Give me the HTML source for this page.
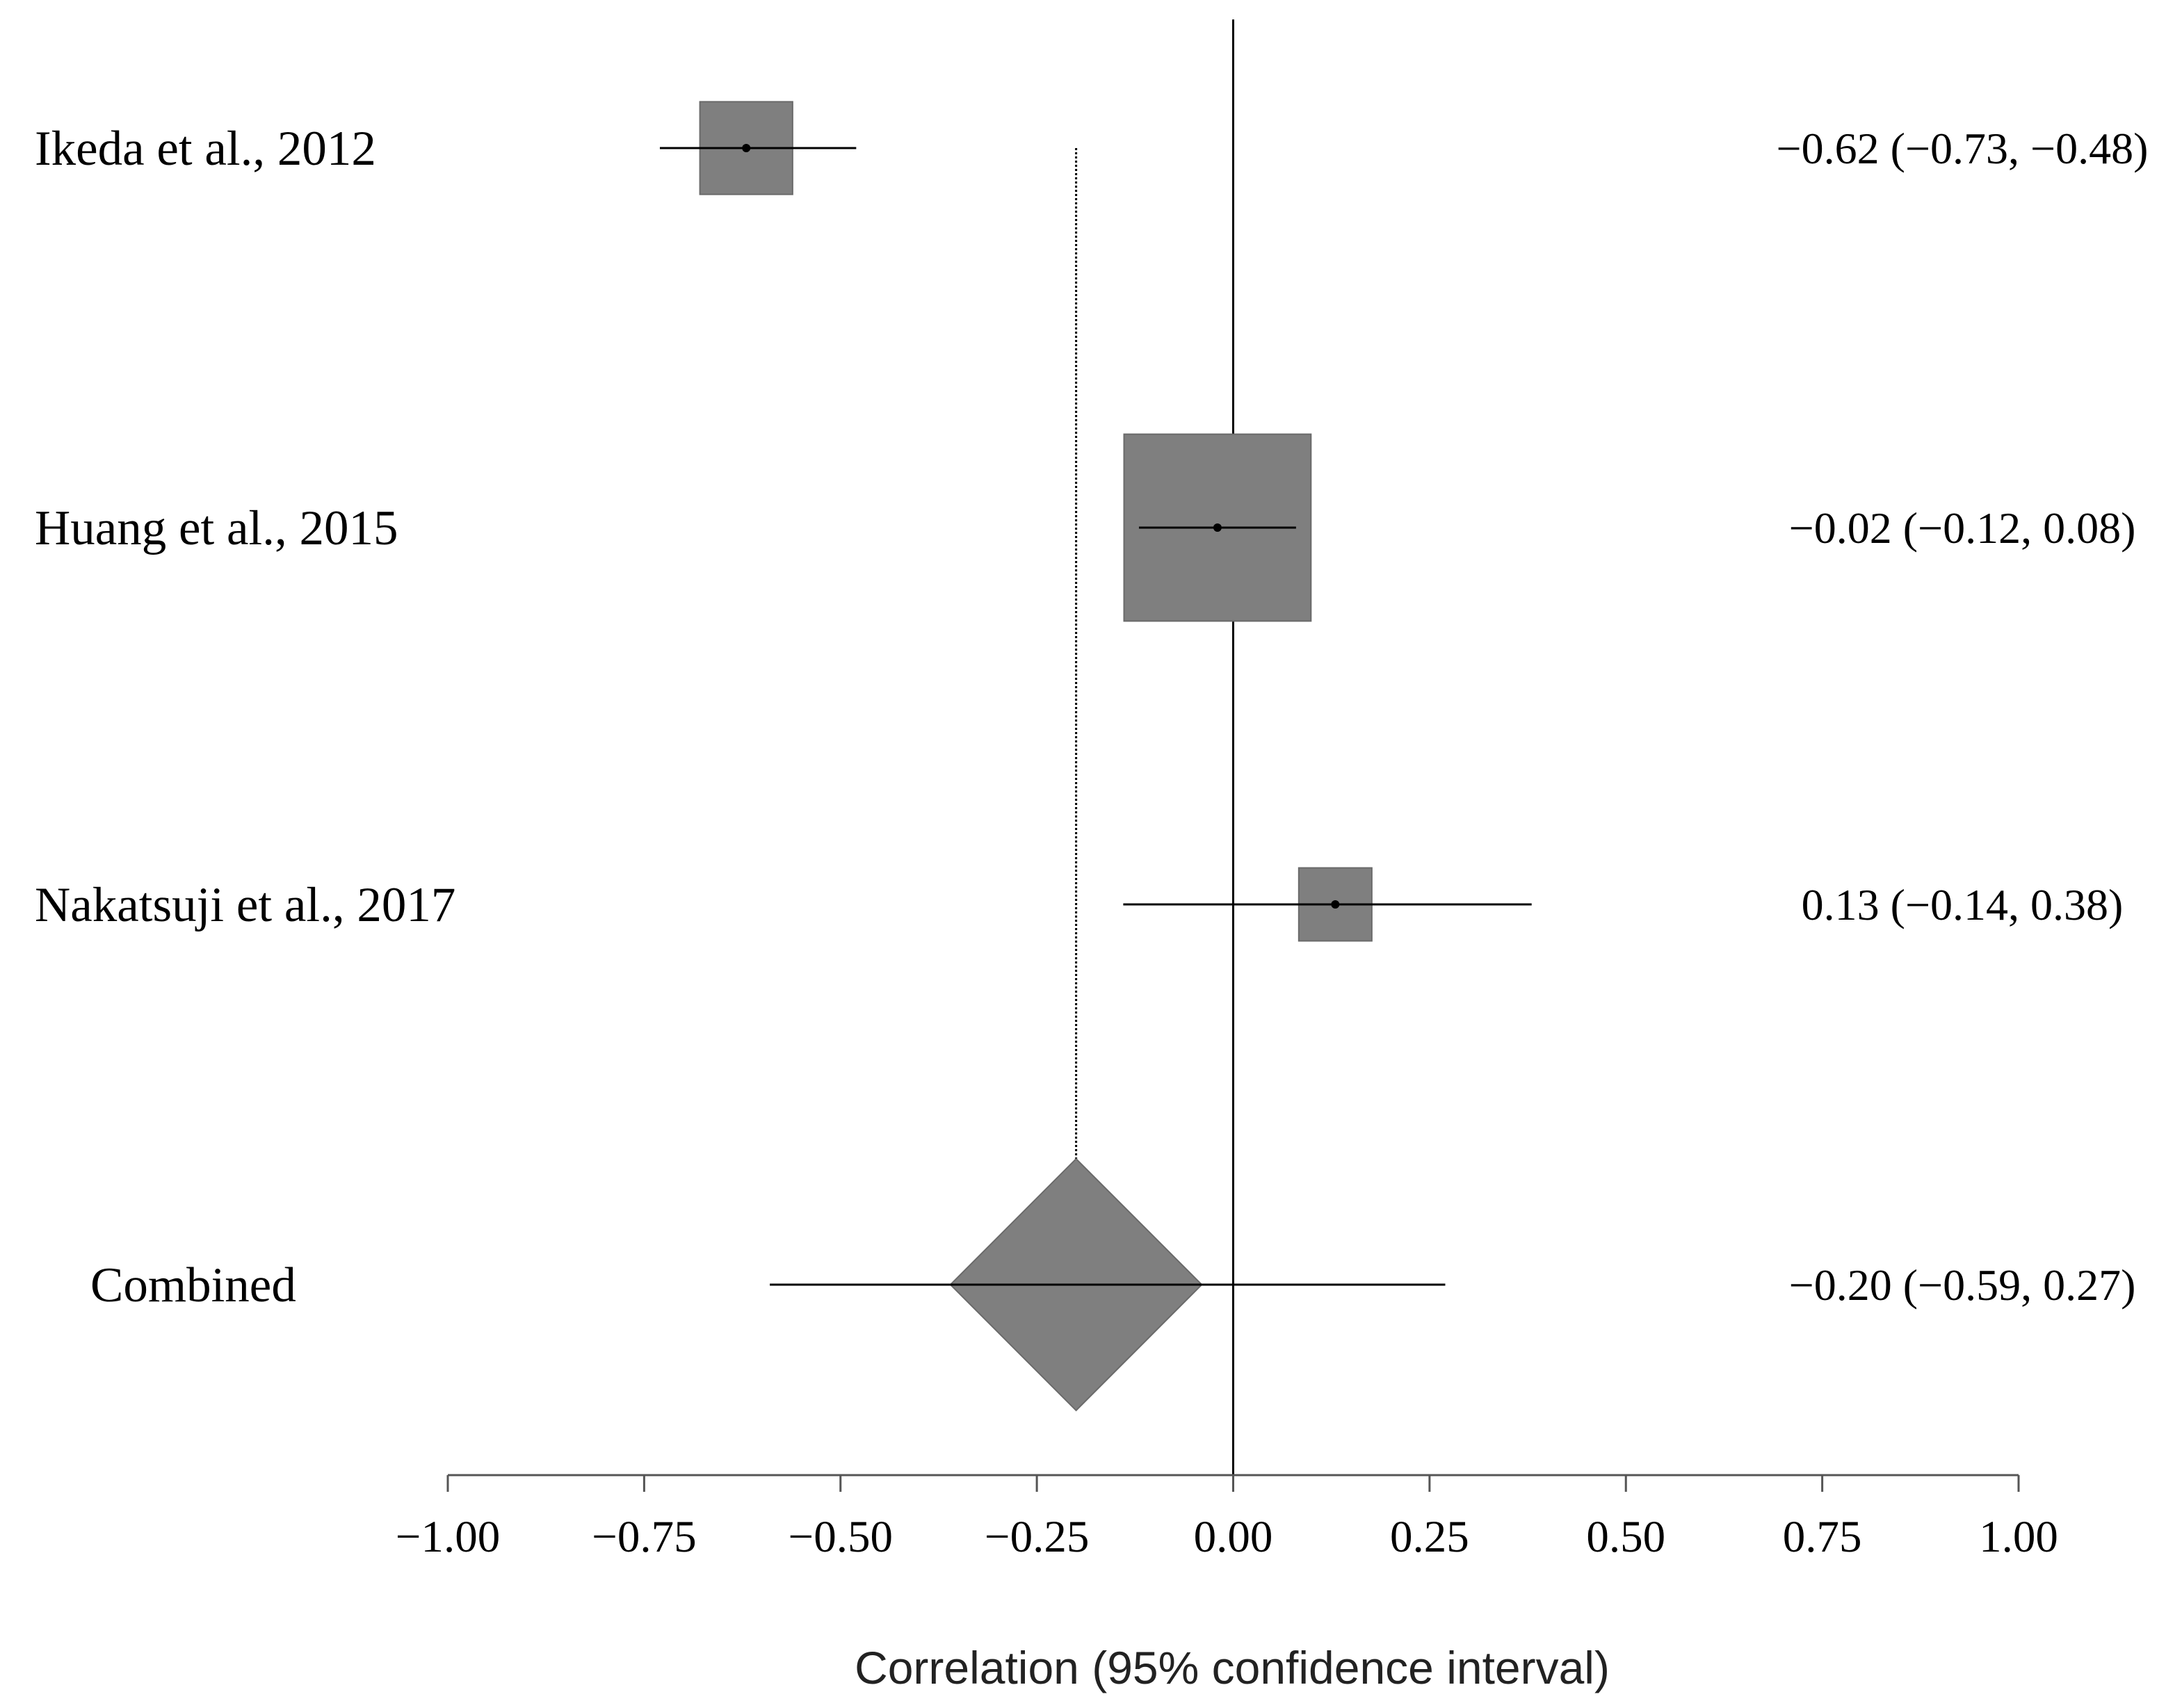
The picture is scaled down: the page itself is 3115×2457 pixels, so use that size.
<!DOCTYPE html>
<html><head><meta charset="utf-8">
<style>
html,body{margin:0;padding:0;background:#fff;}
svg{display:block;}
</style></head>
<body>
<svg id="chart" width="3115" height="2457" viewBox="0 0 3115 2457" xmlns="http://www.w3.org/2000/svg"></svg>
<script>
const studies = ["Ikeda et al., 2012", "Huang et al., 2015", "Nakatsuji et al., 2017"];
const estimates = [-0.62, -0.02, 0.13];
const lowers = [-0.73, -0.12, -0.14];
const uppers = [-0.48, 0.08, 0.38];
const boxWidths = [0.118, 0.238, 0.093];
const combinedLabel = "Combined";
const combinedEst = -0.20;
const combinedLow = -0.59;
const combinedHigh = 0.27;
const combinedDiamondLow = -0.36;
const combinedDiamondHigh = -0.04;
const tickValues = [-1, -0.75, -0.5, -0.25, 0, 0.25, 0.5, 0.75, 1];
const tickLabels = ["\u22121.00","\u22120.75","\u22120.50","\u22120.25","0.00","0.25","0.50","0.75","1.00"];
const valueLabels = ["\u22120.62 (\u22120.73, \u22120.48)","\u22120.02 (\u22120.12, 0.08)","0.13 (\u22120.14, 0.38)"];
const combinedValueLabel = "\u22120.20 (\u22120.59, 0.27)";

const svg = document.getElementById('chart');
const NS = "http://www.w3.org/2000/svg";
const X0 = 644, X1 = 2903;
function xs(v){ return X0 + (v + 1) / 2 * (X1 - X0); }
const rowY = [213, 759, 1301];
const combY = 1848;
const axisY = 2122;
function mk(tag, attrs){ const e = document.createElementNS(NS, tag); for (const k in attrs) e.setAttribute(k, attrs[k]); svg.appendChild(e); return e; }

let z = mk('line', {x1: xs(0), x2: xs(0), y1: 28, y2: axisY, stroke: '#000', 'stroke-width': 3});


let d = mk('line', {x1: xs(combinedEst), x2: xs(combinedEst), y1: 213, y2: 1669, stroke: '#000', 'stroke-width': 3, 'stroke-dasharray': '3,3'});



studies.forEach((s, i) => {
  const y = rowY[i];
  const half = (xs(boxWidths[i]) - xs(0)) / 2;
  const b = mk('rect', {x: xs(estimates[i]) - half, y: y - half, width: half * 2, height: half * 2, fill: '#7f7f7f', stroke: '#6a6a6a', 'stroke-width': 2});
  
  
  const l = mk('line', {x1: xs(lowers[i]), x2: xs(uppers[i]), y1: y, y2: y, stroke: '#000', 'stroke-width': 3});
  
  
  const p = mk('circle', {cx: xs(estimates[i]), cy: y, r: 6, fill: '#000'});
  
  
  const t = mk('text', {x: 50, y: y + 24, 'font-family': '"Liberation Serif", serif', 'font-size': 71, fill: '#000'});
  t.textContent = s;
  
  
  const v = mk('text', {x: 2822, y: y + 22, 'text-anchor': 'middle', 'font-family': '"Liberation Serif", serif', 'font-size': 64, fill: '#000'});
  v.textContent = valueLabels[i];
  
  
});

const dh = 181;
const dm = mk('polygon', {points: `${xs(combinedDiamondLow)},${combY} ${xs(combinedEst)},${combY - dh} ${xs(combinedDiamondHigh)},${combY} ${xs(combinedEst)},${combY + dh}`, fill: '#7f7f7f', stroke: '#6a6a6a', 'stroke-width': 2});


const cl = mk('line', {x1: xs(combinedLow), x2: xs(combinedHigh), y1: combY, y2: combY, stroke: '#000', 'stroke-width': 3});


const ct = mk('text', {x: 130, y: combY + 24, 'font-family': '"Liberation Serif", serif', 'font-size': 71, fill: '#000'});
ct.textContent = combinedLabel;


const cv = mk('text', {x: 2822, y: combY + 22, 'text-anchor': 'middle', 'font-family': '"Liberation Serif", serif', 'font-size': 64, fill: '#000'});
cv.textContent = combinedValueLabel;



const ax = mk('line', {x1: X0, x2: X1, y1: axisY, y2: axisY, stroke: '#555', 'stroke-width': 3});


tickValues.forEach((tv, i) => {
  const tk = mk('line', {x1: xs(tv), x2: xs(tv), y1: axisY, y2: axisY + 24, stroke: '#555', 'stroke-width': 3});
  
  
  const tl = mk('text', {x: xs(tv), y: 2232, 'text-anchor': 'middle', 'font-family': '"Liberation Serif", serif', 'font-size': 65, fill: '#000'});
  tl.textContent = tickLabels[i];
  
  
});
const xt = mk('text', {x: 1772, y: 2422, 'text-anchor': 'middle', 'font-family': '"Liberation Sans", sans-serif', 'font-size': 66, fill: '#222'});
xt.textContent = "Correlation (95% confidence interval)";


</script>
</body></html>
